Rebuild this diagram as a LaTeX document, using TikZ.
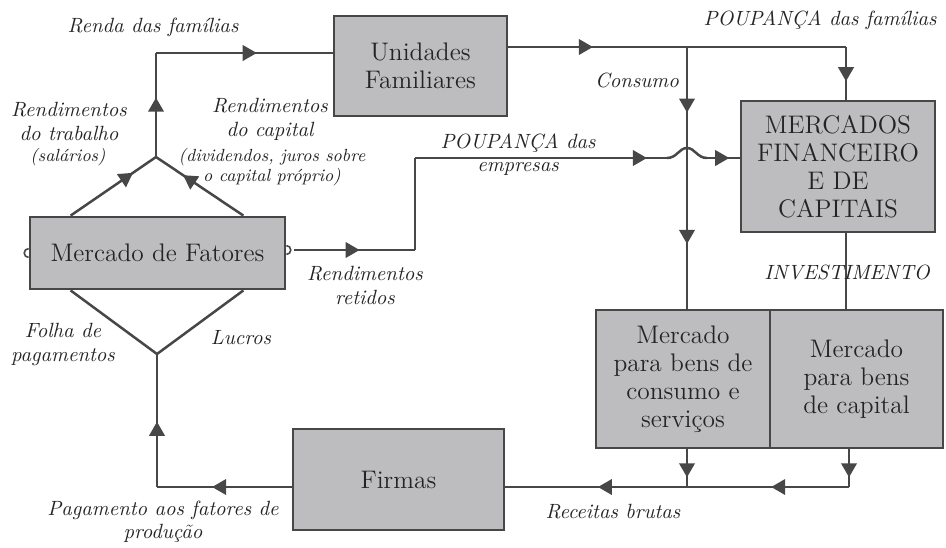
\documentclass[tikz,border=0pt]{standalone}
\usepackage{tikz}
\usetikzlibrary{arrows}
\usetikzlibrary{decorations.markings}
\usetikzlibrary{positioning}
\definecolor{mgray}{rgb}{0.74, 0.74, 0.75}
\definecolor{mline}{rgb}{0.28, 0.28, 0.28}
\definecolor{mtext}{rgb}{0.14, 0.14, 0.14}
\tikzset{flow/.style = {decoration={markings,
                                    mark=at position #1 with {\arrow[scale=0.85]{triangle 60}}},
                        postaction={decorate}}}
\tikzset{box/.style = {draw=mline, fill=mgray, line width=1.4pt, inner sep=0pt,
                       align=center, text=mtext, font=\fontsize{12.7}{14}\selectfont},
         lbl/.style = {align=center, inner sep=0pt, text=mtext,
                       font=\itshape\fontsize{10.3}{11.75}\selectfont},
         sml/.style = {lbl, font=\itshape\fontsize{8.8}{10}\selectfont}}

\begin{document}
\begin{tikzpicture}[x=0.5pt, y=-0.5pt, line width=1.25pt, color=mline]
      \useasboundingbox (0, 0) rectangle (946, 547);

      % boxes
      \node [box, minimum width=86.5pt, minimum height=50pt] (uf) at (420.5, 66) {Unidades\\Familiares};
      \node [box, minimum width=97pt, minimum height=65.5pt] (fin) at (838, 166.5) {MERCADOS\\FINANCEIRO\\E DE\\CAPITAIS};
      \node [box, minimum width=127.5pt, minimum height=36pt] (fat) at (157.5, 253) {Mercado de Fatores};
      \node [box, minimum width=105.5pt, minimum height=50.5pt] (firmas) at (398.5, 479.5) {Firmas};
      \node [box, minimum width=87pt, minimum height=69pt] (cons) at (683, 379) {Mercado\\para bens de\\consumo e\\serviços};
      \node [box, minimum width=86.5pt, minimum height=69pt] (cap) at (856.5, 379) {Mercado\\para bens\\de capital};

      \coordinate (f1) at ([xshift=21pt]fat.north west);
      \coordinate (f2) at ([xshift=-21.5pt]fat.north east);
      \coordinate (f3) at ([xshift=21pt]fat.south west);
      \coordinate (f4) at ([xshift=-21.5pt]fat.south east);
      \coordinate (fe) at ([yshift=1.5pt, xshift=4pt]fat.east);
      \coordinate (j1) at (156, 157);
      \coordinate (c1) at (156, 53);
      \coordinate (c2) at (846, 47);
      \coordinate (c3) at (687, 47);
      \coordinate (h1) at (687, 158);
      \coordinate (c4) at (415, 250);
      \coordinate (c5) at (415, 158);
      \coordinate (ha) at (667, 158);
      \coordinate (hb) at (707, 158);
      \coordinate (c6) at (687, 487);
      \coordinate (c7) at (849, 487);
      \coordinate (c8) at (157, 487);
      \coordinate (j2) at (157, 354);

      % small ends on the factor market
      \draw [line width=0.8pt, fill=white] ([yshift=2.2pt]fat.west) arc (90:270:2.2pt);
      \draw [line width=0.8pt, fill=white] ([yshift=-0.7pt]fat.east) arc (-90:90:2.2pt);

      % income of the families
      \draw [flow=0.73] (f1) -- (j1);
      \draw [flow=0.69] (f2) -- (j1);
      \draw [flow=0.57] (j1) -- (c1);
      \draw [flow=0.57] (c1) -- (c1 -| uf.west);

      % spending and saving
      \draw [flow=0.25] (c2 -| uf.east) -- (c2);
      \draw [flow=0.65] (c2) -- (c2 |- fin.north);
      \draw [flow=0.59] (c3) -- (h1);
      \draw [flow=0.57] (h1) -- (h1 |- cons.north);
      \draw (c2 |- fin.south) -- (c2 |- cap.north);

      % retained earnings
      \draw [flow=0.54] (fe) -- (c4);
      \draw (c4) -- (c5);
      \draw [flow=0.92] (c5) -- (ha);
      \draw (ha) .. controls (677, 158) and (679, 148) .. (687, 148)
                 .. controls (695, 148) and (697, 158) .. (hb);
      \draw [flow=0.68] (hb) -- (hb -| fin.west);

      % revenue and payments
      \draw [flow=0.74] (cons.south -| c6) -- (c6);
      \draw [flow=0.74] (cap.south -| c7) -- (c7);
      \draw [flow=0.48] (c7) -- (c6);
      \draw [flow=0.49] (c6) -- (c6 -| firmas.east);
      \draw [flow=0.59] (c8 -| firmas.west) -- (c8);
      \draw [flow=0.49] (c8) -- (j2);
      \draw (j2) -- (f3);
      \draw (j2) -- (f4);

      % labels
      \node [lbl] (renda) at (153, 27) {Renda das famílias};
      \node [lbl] (rtrab) at (69, 121.5) {Rendimentos\\do trabalho};
      \node [sml] (sal) at (68, 157) {(salários)};
      \node [lbl] (rcap) at (270, 119.5) {Rendimentos\\do capital};
      \node [sml] (div) at (272, 167) {(dividendos, juros sobre\\o capital próprio)};
      \node [lbl] (pfam) at (820, 20) {POUPANÇA das famílias};
      \node [lbl] (consumo) at (637, 80) {Consumo};
      \node [lbl] (pemp) at (518, 154.5) {POUPANÇA das\\empresas};
      \node [lbl] (retidos) at (365, 285.5) {Rendimentos\\retidos};
      \node [lbl] (invest) at (847, 272) {INVESTIMENTO};
      \node [lbl] (folha) at (63, 344.5) {Folha de\\pagamentos};
      \node [lbl] (lucros) at (241, 338) {Lucros};
      \node [lbl] (pag) at (163, 521.5) {Pagamento aos fatores de\\produção};
      \node [lbl] (receitas) at (613, 512) {Receitas brutas};
\end{tikzpicture}
\end{document}
